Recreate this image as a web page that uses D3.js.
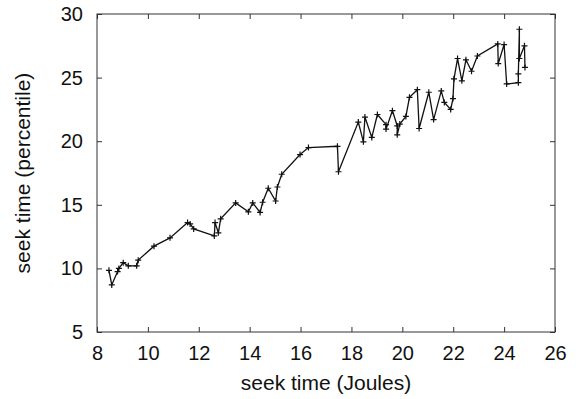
<!DOCTYPE html>
<html lang="en">
<head>
<meta charset="UTF-8">
<title>seek time</title>
<script src="https://d3js.org/d3.v7.min.js"></script>
<style>
  body { margin: 0; background: #fff; }
  text { font-family: "Liberation Sans", Arial, sans-serif; fill: #111; }
</style>
</head>
<body>
<script>
// data
var joules = [8.47, 8.58, 8.81, 8.86, 9.03, 9.23, 9.56, 9.62, 10.24, 10.87,
  11.56, 11.66, 11.8, 12.61, 12.64, 12.77, 12.86, 13.45, 13.95, 14.12,
  14.41, 14.51, 14.73, 15.02, 15.09, 15.26, 15.98, 16.31, 17.45, 17.49,
  18.27, 18.47, 18.53, 18.8, 19.02, 19.36, 19.36, 19.61, 19.8, 19.8,
  19.9, 20.14, 20.28, 20.59, 20.66, 21.04, 21.23, 21.53, 21.65, 21.9,
  21.99, 22.03, 22.17, 22.34, 22.5, 22.72, 22.95, 23.75, 23.77, 24.0,
  24.1, 24.56, 24.56, 24.6, 24.6, 24.8, 24.82];
var percentile = [9.85, 8.7, 9.75, 10.0, 10.45, 10.2, 10.2, 10.65, 11.75, 12.4,
  13.6, 13.5, 13.1, 12.55, 13.6, 12.8, 13.9, 15.15, 14.45, 15.15,
  14.4, 15.2, 16.3, 15.3, 16.4, 17.4, 18.95, 19.5, 19.6, 17.6,
  21.5, 19.95, 21.9, 20.3, 22.1, 21.3, 20.95, 22.4, 21.2, 20.5,
  21.35, 21.95, 23.45, 24.05, 21.0, 23.85, 21.7, 23.95, 23.05, 22.5,
  23.35, 24.9, 26.5, 24.75, 26.4, 25.5, 26.7, 27.65, 26.1, 27.6,
  24.5, 24.6, 25.3, 28.8, 26.5, 27.5, 25.8];
var xTicks = [8, 10, 12, 14, 16, 18, 20, 22, 24, 26];
var yTicks = [5, 10, 15, 20, 25, 30];

var width = 580, height = 399;
var mLeft = 97, mRight = 555, mTop = 14, mBottom = 332;

var svg = d3.select("body").append("svg")
    .attr("width", width)
    .attr("height", height);

var x = d3.scaleLinear().domain([8, 26]).range([mLeft, mRight]);
var y = d3.scaleLinear().domain([5, 30]).range([mBottom, mTop]);

// ticks point inward on all four sides
svg.append("g")
    .attr("transform", "translate(0," + mBottom + ")")
    .call(d3.axisBottom(x).tickValues(xTicks).tickSizeInner(-5).tickSizeOuter(0).tickPadding(14))
    .call(g => g.selectAll("text").attr("font-size", 20));
svg.append("g")
    .attr("transform", "translate(0," + mTop + ")")
    .call(d3.axisTop(x).tickValues(xTicks).tickSizeInner(-5).tickSizeOuter(0).tickFormat(""));
svg.append("g")
    .attr("transform", "translate(" + mLeft + ",0)")
    .call(d3.axisLeft(y).tickValues(yTicks).tickSizeInner(-5).tickSizeOuter(0).tickPadding(14))
    .call(g => g.selectAll("text").attr("font-size", 20));
svg.append("g")
    .attr("transform", "translate(" + mRight + ",0)")
    .call(d3.axisRight(y).tickValues(yTicks).tickSizeInner(-5).tickSizeOuter(0).tickFormat(""));

svg.selectAll(".domain").remove();
svg.selectAll(".tick line").attr("stroke", "#333");
svg.append("rect")
    .attr("x", mLeft).attr("y", mTop)
    .attr("width", mRight - mLeft).attr("height", mBottom - mTop)
    .attr("fill", "none").attr("stroke", "#333").attr("stroke-width", 1);

svg.append("text")
    .attr("x", (mLeft + mRight) / 2).attr("y", 390)
    .attr("text-anchor", "middle").attr("font-size", 21)
    .text("seek time (Joules)");
svg.append("text")
    .attr("transform", "translate(30," + (mTop + mBottom) / 2 + ") rotate(-90)")
    .attr("text-anchor", "middle").attr("font-size", 21)
    .text("seek time (percentile)");

var pts = joules.map((d, i) => [d, percentile[i]]);

svg.append("path")
    .datum(pts)
    .attr("fill", "none")
    .attr("stroke", "#111")
    .attr("stroke-width", 1.3)
    .attr("d", d3.line().x(d => x(d[0])).y(d => y(d[1])));

svg.selectAll(".pt")
    .data(pts)
    .enter().append("path")
    .attr("class", "pt")
    .attr("transform", d => "translate(" + x(d[0]) + "," + y(d[1]) + ")")
    .attr("d", "M-3,0H3M0,-3V3")
    .attr("stroke", "#111")
    .attr("stroke-width", 1.2);
</script>
</body>
</html>
